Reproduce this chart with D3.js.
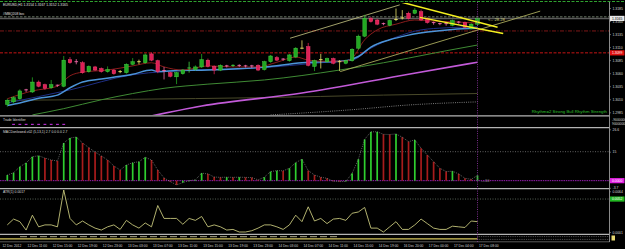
<!DOCTYPE html>
<html><head><meta charset="utf-8">
<script src="https://cdn.jsdelivr.net/npm/d3@7"></script>
<style>
html,body{margin:0;padding:0;background:#000;overflow:hidden}
svg{display:block}
text{font-family:"Liberation Sans",Arial,sans-serif}
</style></head><body>
<svg id="c" width="625" height="249"></svg>
<script>
// ---------------- DATA ----------------
const symbolLabel = "EURUSD,H1";
const indicatorLabel = "#MBQ208 bvc";
const opens  = [1.3000,1.3005,1.3011,1.3028,1.3024,1.3043,1.3038,1.3032,1.3037,1.3035,1.3086,1.3082,1.3080,1.3063,1.3072,1.3069,1.3063,1.3066,1.3063,1.3061,1.3077,1.3082,1.3080,1.3097,1.3084,1.3065,1.3061,1.3053,1.3059,1.3069,1.3067,1.3072,1.3085,1.3073,1.3066,1.3074,1.3074,1.3075,1.3074,1.3074,1.3075,1.3067,1.3082,1.3090,1.3087,1.3084,1.3091,1.3108,1.3111,1.3073,1.3086,1.3082,1.3088,1.3082,1.3079,1.3084,1.3108,1.3131,1.3165,1.3162,1.3155,1.3152,1.3163,1.3166,1.3175,1.3175,1.3178,1.3165,1.3157,1.3155,1.3155,1.3152,1.3158,1.3157,1.3146,1.3154];
const highs  = [1.3011,1.3016,1.3029,1.3030,1.3052,1.3046,1.3040,1.3047,1.3038,1.3093,1.3091,1.3087,1.3083,1.3075,1.3074,1.3071,1.3073,1.3068,1.3066,1.3079,1.3089,1.3086,1.3098,1.3100,1.3086,1.3072,1.3063,1.3063,1.3068,1.3082,1.3075,1.3097,1.3088,1.3075,1.3077,1.3076,1.3077,1.3077,1.3076,1.3076,1.3077,1.3084,1.3095,1.3093,1.3089,1.3097,1.3110,1.3123,1.3118,1.3086,1.3097,1.3090,1.3090,1.3085,1.3086,1.3108,1.3134,1.3172,1.3168,1.3164,1.3157,1.3163,1.3184,1.3181,1.3178,1.3185,1.3182,1.3167,1.3159,1.3157,1.3158,1.3163,1.3160,1.3159,1.3156,1.3167];
const lows   = [1.2996,1.3002,1.3009,1.3024,1.3022,1.3033,1.3028,1.3030,1.3034,1.3033,1.3078,1.3077,1.3059,1.3061,1.3064,1.3061,1.3061,1.3057,1.3060,1.3059,1.3075,1.3077,1.3078,1.3083,1.3060,1.3048,1.3052,1.3039,1.3057,1.3061,1.3065,1.3070,1.3071,1.3058,1.3064,1.3071,1.3072,1.3072,1.3071,1.3070,1.3064,1.3065,1.3080,1.3083,1.3084,1.3082,1.3089,1.3106,1.3073,1.3064,1.3069,1.3080,1.3077,1.3064,1.3077,1.3082,1.3105,1.3129,1.3157,1.3152,1.3152,1.3150,1.3160,1.3163,1.3163,1.3173,1.3160,1.3155,1.3153,1.3152,1.3151,1.3150,1.3155,1.3146,1.3144,1.3152];
const closes = [1.3008,1.3013,1.3026,1.3027,1.3043,1.3035,1.3031,1.3038,1.3036,1.3085,1.3080,1.3081,1.3061,1.3073,1.3066,1.3063,1.3067,1.3059,1.3063,1.3077,1.3082,1.3082,1.3095,1.3085,1.3063,1.3064,1.3054,1.3061,1.3066,1.3070,1.3072,1.3086,1.3073,1.3066,1.3075,1.3073,1.3075,1.3074,1.3073,1.3073,1.3066,1.3082,1.3093,1.3085,1.3086,1.3095,1.3108,1.3108,1.3075,1.3084,1.3086,1.3088,1.3079,1.3082,1.3084,1.3106,1.3131,1.3165,1.3159,1.3154,1.3154,1.3161,1.3163,1.3166,1.3165,1.3181,1.3162,1.3157,1.3156,1.3154,1.3154,1.3161,1.3157,1.3148,1.3154,1.3165];

// moving averages: bar index + value pairs
const maFastIdx = [0,4,8,10,12,16,20,23,25,28,32,36,40,43,46,48,50,54,55,57,59,62,65,68,72,75];
const maFast    = [1.3011,1.3026,1.3035,1.3055,1.3062,1.3066,1.3074,1.3080,1.3072,1.3066,1.3074,1.3072,1.3072,1.3081,1.3091,1.3085,1.3083,1.3083,1.3089,1.3124,1.3143,1.3154,1.3162,1.3160,1.3158,1.3156];
const maNavyIdx = [0,10,20,30,40,50,55,58,62,66,70,75];
const maNavy    = [1.3003,1.3028,1.3057,1.3066,1.3070,1.3080,1.3085,1.3108,1.3129,1.3143,1.3147,1.3149];
const maBlueIdx = [0,2,5,8,10,12,15,18,20,23,24,27,32,41,47,54,56,58,61,64,67,71,75];
const maBlue    = [1.2998,1.3003,1.3012,1.3018,1.3032,1.3043,1.3049,1.3054,1.3058,1.3066,1.3063,1.3065,1.3066,1.3072,1.3080,1.3084,1.3092,1.3110,1.3124,1.3133,1.3139,1.3144,1.3146];
const maOliveIdx = [4,9,15,20,25,32,41,53,60,64,70,75];
const maOlive    = [1.2980,1.2992,1.3009,1.3021,1.3031,1.3039,1.3047,1.3066,1.3080,1.3089,1.3103,1.3114];
const maDarkIdx = [0,20,40,60,75];
const maDark    = [1.3008,1.3010,1.3013,1.3018,1.3021];
const maVioletIdx = [23,31,47,64,75];
const maViolet    = [1.2978,1.2997,1.3022,1.3058,1.3081];
const maDottedIdx = [42,55,64,75];
const maDotted    = [1.2980,1.2990,1.2999,1.3005];

const priceTicks = [1.2985,1.3010,1.3035,1.3060,1.3085,1.3110,1.3135,1.3160,1.3185];
const levelRed = 1.3099, levelDarkRed = 1.3141, spread = 0.0003;

// trend objects: [barIndex, price] endpoints
const channelUpper = [[45.1,1.3127],[62.6,1.3191]];
const channelLower = [[53.1,1.3063],[85.0,1.3179]];
const wedgeUpper   = [[62.6,1.3197],[78.2,1.3148]];
const wedgeLower   = [[65.8,1.3167],[79.1,1.3136]];
const wedgeLabel = "<-- 28.28";

const tradeIdBars = [1,2,3,4,5,6,7,8,9];
const tradeIdTicks = ["-9000000","9000000"];

const macdHist = [2.9,4.1,7.2,9.2,12.4,12.9,11.7,10.7,10.2,19.5,22.1,22.6,19.5,17.1,14.8,12.8,10.7,7.6,5.5,8.1,9.3,9.8,12.1,10.7,5.5,1.4,-0.5,-2.2,-1.0,0.0,0.4,3.9,3.5,1.9,1.7,1.8,1.7,1.8,1.7,1.6,0.4,1.8,4.7,5.2,5.1,6.4,9.3,11.1,5.2,2.9,1.8,1.2,-0.3,-0.5,-0.4,3.8,11.1,21.4,25.3,25.3,24.0,23.9,24.2,22.5,20.2,21.1,16.8,13.3,9.8,6.4,4.7,4.9,3.5,1.2,0.7,2.7];
const macdTicks = [26.6,15,-3.7];
const macdLevel = 15;

const atrValues = [0.0012,0.0021,0.0017,0.0004,0.0027,0.0009,0.0012,0.0012,0.0009,0.0066,0.0022,0.0012,0.0018,0.0012,0.0007,0.0004,0.0009,0.0012,0.0005,0.0019,0.0012,0.0007,0.0015,0.0009,0.0042,0.0022,0.0022,0.0022,0.0013,0.0022,0.0019,0.0025,0.0009,0.0012,0.0009,0.0004,0.0005,0.0001,0.0001,0.0003,0.0007,0.0012,0.0012,0.0009,0.0005,0.0012,0.0027,0.0017,0.0040,0.0018,0.0022,0.0014,0.0021,0.0022,0.0019,0.0030,0.0032,0.0039,0.0007,0.0007,0.0001,0.0009,0.0017,0.0005,0.0005,0.0012,0.0021,0.0014,0.0007,0.0005,0.0005,0.0010,0.0009,0.0008,0.0018,0.0017];
const atrTicks = [0.0064,0.0001];
const atrLevel = 0.0052;

const timeLabels = ["12 Dec 2012","12 Dec 11:00","12 Dec 15:00","12 Dec 19:00","12 Dec 23:00","13 Dec 03:00","13 Dec 07:00","13 Dec 11:00","13 Dec 15:00","13 Dec 19:00","13 Dec 23:00","14 Dec 03:00","14 Dec 07:00","14 Dec 11:00","14 Dec 15:00","14 Dec 19:00","16 Dec 20:00","17 Dec 00:00","17 Dec 04:00","17 Dec 08:00"];
const timeLabelBars = [-1,3,7,11,15,19,23,27,31,35,39,43,47,51,55,59,63,67,71,75];
const rhythmText = "Rhythm=2 Strong Bull Rhythm Strength";

// ---------------- DRAW ----------------
const svg = d3.select("#c");
const W = 625, AX = 609.5;
const FS = 3.4;
const n = closes.length;
const x = d3.scaleLinear().domain([0, n-1]).range([7.3, 477.5]);
const yP = d3.scaleLinear().domain([1.2985, 1.3185]).range([112.3, 8]);
const yM = d3.scaleLinear().domain([-3.7, 26.6]).range([187.8, 129.3]);
const yA = d3.scaleLinear().domain([0.0001, 0.0066]).range([232, 190]);

svg.append("rect").attr("width", W).attr("height", 249).attr("fill", "#000");

const defs = svg.append("defs");
defs.append("clipPath").attr("id","cpMain").append("rect").attr("x",0).attr("y",3).attr("width",AX).attr("height",112);
defs.append("clipPath").attr("id","cpMacd").append("rect").attr("x",0).attr("y",128.5).attr("width",AX).attr("height",60);
defs.append("clipPath").attr("id","cpAtr").append("rect").attr("x",0).attr("y",189.5).attr("width",AX).attr("height",44.5);

// top green border line
svg.append("line").attr("x1",0).attr("x2",W).attr("y1",1.5).attr("y2",1.5)
  .attr("stroke","#2fa12f").attr("stroke-width",1).attr("stroke-dasharray","3,1.5");

const main = svg.append("g").attr("clip-path","url(#cpMain)");
const lastClose = closes[n-1];

// horizontal levels
function hline(g, y, col, w, dash){
  g.append("line").attr("x1",0).attr("x2",AX).attr("y1",y).attr("y2",y)
   .attr("stroke",col).attr("stroke-width",w).attr("stroke-dasharray",dash||null);
}
hline(main, yP(lastClose+spread), "#9fb39a", 0.7, "2.5,1.5");
hline(main, yP(lastClose), "#5a5a5a", 1.6);
hline(main, yP(levelDarkRed), "#8c1a1a", 0.9, "4,1.5,1,1.5");
hline(main, yP(levelRed), "#c41414", 1, "3,1.5");

// moving averages
function maLine(idx, vals, col, w, dash){
  const pts = idx.map((d,i)=>[d, vals[i]]);
  main.append("path").datum(pts)
    .attr("d", d3.line().x(d=>x(d[0])).y(d=>yP(d[1])).curve(d3.curveMonotoneX))
    .attr("fill","none").attr("stroke",col).attr("stroke-width",w).attr("stroke-dasharray",dash||null);
}
maLine(maDarkIdx, maDark, "#4a4a2a", 1);
maLine(maDottedIdx, maDotted, "#9a9a9a", 0.8, "1,1.2");
maLine(maVioletIdx, maViolet, "#c25ad8", 1.6);
maLine(maOliveIdx, maOlive, "#3f8a34", 1);
maLine(maNavyIdx, maNavy, "#1e2f86", 1);
maLine(maBlueIdx, maBlue, "#4c94d8", 1.5);
maLine(maFastIdx, maFast, "#8a1c1c", 1);

// channel trend lines
function seg(g, pts, col, w){
  g.append("line").attr("x1",x(pts[0][0])).attr("y1",yP(pts[0][1]))
   .attr("x2",x(pts[1][0])).attr("y2",yP(pts[1][1]))
   .attr("stroke",col).attr("stroke-width",w);
}
seg(main, channelUpper, "#c9c985", 0.8);
seg(main, channelLower, "#a9aa5c", 0.9);

// candles
const idx = d3.range(n);
function candleColor(i){
  const o = opens[i], c = closes[i];
  if (Math.abs(c-o) < 0.00005) return "#e6df6a";
  if (Math.abs(c-o) <= 0.00011) return c > o ? "#44d444" : "#f06aa8";
  return c > o ? "#22a822" : "#dd1f55";
}
main.selectAll("line.wick").data(idx).join("line").attr("class","wick")
  .attr("x1", i=>x(i)).attr("x2", i=>x(i))
  .attr("y1", i=>yP(highs[i])).attr("y2", i=>yP(lows[i]))
  .attr("stroke", candleColor).attr("stroke-width", 0.8);
main.selectAll("rect.body").data(idx).join("rect").attr("class","body")
  .attr("x", i=>x(i)-1.8).attr("width", 3.6)
  .attr("y", i=>Math.min(yP(opens[i]), yP(closes[i])) - (Math.abs(yP(opens[i])-yP(closes[i]))<0.9?0.45:0))
  .attr("height", i=>Math.max(0.9, Math.abs(yP(opens[i])-yP(closes[i]))))
  .attr("fill", candleColor)
  .attr("stroke", i=> closes[i]-opens[i] > 0.00011 ? "#4fe04f" : (opens[i]-closes[i] > 0.00011 ? "#ff4f7f" : "none"))
  .attr("stroke-width", 0.4);

// wedge lines (bright yellow)
seg(main, wedgeUpper, "#f4f020", 1.5);
seg(main, wedgeLower, "#f4f020", 1.5);
main.append("text").attr("x", 488).attr("y", 20.5).attr("font-size", 4.2).attr("fill","#cfcf7a").text(wedgeLabel);

// header texts
svg.append("text").attr("x",3).attr("y",6).attr("font-size",FS).attr("fill","#e0e0e0")
  .text(`${symbolLabel}  ${opens[n-1].toFixed(4)} ${highs[n-1].toFixed(4)} ${lows[n-1].toFixed(4)} ${closes[n-1].toFixed(4)}`);
svg.append("text").attr("x",3).attr("y",15).attr("font-size",FS).attr("fill","#e0e0e0").text(indicatorLabel);

// rhythm text
svg.append("text").attr("x",607).attr("y",113.2).attr("text-anchor","end").attr("font-size",4.3)
  .attr("fill","#2ec02e").text(rhythmText);

// ---- Trade identifier panel
svg.append("text").attr("x",3).attr("y",121.2).attr("font-size",FS).attr("fill","#d8d8d8").text("Trade Identifier");
svg.selectAll("rect.tid").data(tradeIdBars).join("rect").attr("class","tid")
  .attr("x", d=>x(d)-1.4).attr("y",123.8).attr("width",2.8).attr("height",1.2).attr("fill","#b02cc8");

// ---- MACD panel
const mg = svg.append("g").attr("clip-path","url(#cpMacd)");
mg.append("line").attr("x1",0).attr("x2",AX).attr("y1",yM(macdLevel)).attr("y2",yM(macdLevel))
  .attr("stroke","#8a8a8a").attr("stroke-width",0.7).attr("stroke-dasharray","1,1.5");
mg.append("line").attr("x1",0).attr("x2",AX).attr("y1",yM(0)).attr("y2",yM(0))
  .attr("stroke","#9a1eb4").attr("stroke-width",1).attr("stroke-dasharray","1.5,0.8");
mg.selectAll("rect.mb").data(idx).join("rect").attr("class","mb")
  .attr("x", i=>x(i)-0.85).attr("width",1.7)
  .attr("y", i=>Math.min(yM(0), yM(macdHist[i])))
  .attr("height", i=>Math.max(0.6, Math.abs(yM(macdHist[i])-yM(0))))
  .attr("fill", i=> (i===0 || macdHist[i] >= macdHist[i-1]) ? "#2fcf2f" : "#a81c1c");
mg.append("path").datum(idx)
  .attr("d", d3.line().x(i=>x(i)).y(i=>yM(macdHist[i])))
  .attr("fill","none").attr("stroke","#b8b8b8").attr("stroke-width",0.6).attr("stroke-dasharray","0.8,1.2");
svg.append("text").attr("x",3).attr("y",133.3).attr("font-size",FS).attr("fill","#d8d8d8")
  .text(`MACDonlowed-v02 (5,13,1) ${macdHist[n-1].toFixed(1)} 0.0 0.0 ${macdHist[n-1].toFixed(1)}`);
svg.append("text").attr("x",481).attr("y",yM(0)+1.4).attr("font-size",4).attr("fill","#9a9a9a").text("—10");

// ---- ATR panel
const ag = svg.append("g").attr("clip-path","url(#cpAtr)");
ag.append("line").attr("x1",0).attr("x2",AX).attr("y1",yA(atrLevel)).attr("y2",yA(atrLevel))
  .attr("stroke","#7a8a7a").attr("stroke-width",0.7).attr("stroke-dasharray","1,1.5");
ag.append("path").datum(idx)
  .attr("d", d3.line().x(i=>x(i)).y(i=>yA(atrValues[i])))
  .attr("fill","none").attr("stroke","#c4c47a").attr("stroke-width",0.9);
svg.append("text").attr("x",3).attr("y",193.4).attr("font-size",FS).attr("fill","#d8d8d8")
  .text(`ATR(1) ${atrValues[n-1].toFixed(4)}`);

// ---- bottom strip (small sub-window)
svg.append("line").attr("x1",0).attr("x2",x(n-1)).attr("y1",238.9).attr("y2",238.9).attr("stroke","#d4c55c").attr("stroke-width",1.2);
svg.append("line").attr("x1",20).attr("x2",340).attr("y1",236.7).attr("y2",236.7).attr("stroke","#ddd8b0").attr("stroke-width",0.8).attr("stroke-dasharray","7,3");
svg.append("line").attr("x1",x(n-1)).attr("x2",AX).attr("y1",236.6).attr("y2",236.6).attr("stroke","#8a8a8a").attr("stroke-width",0.7).attr("stroke-dasharray","0.8,1");
svg.append("line").attr("x1",x(n-1)).attr("x2",AX).attr("y1",239.4).attr("y2",239.4).attr("stroke","#8a8a8a").attr("stroke-width",0.7).attr("stroke-dasharray","0.8,1");

// panel separators
[115.8,127.6,188.6,234.4].forEach(y=>{
  svg.append("line").attr("x1",0).attr("x2",AX).attr("y1",y).attr("y2",y).attr("stroke","#b4b4b4").attr("stroke-width",1.3);
});
svg.append("line").attr("x1",0).attr("x2",AX).attr("y1",241.8).attr("y2",241.8).attr("stroke","#707070").attr("stroke-width",0.8);

// vertical current-bar dotted line
svg.append("line").attr("x1",x(n-1)).attr("x2",x(n-1)).attr("y1",2).attr("y2",242)
  .attr("stroke","#9a3ab0").attr("stroke-width",0.8).attr("stroke-dasharray","1,1.3");

// right axis line
svg.append("line").attr("x1",AX).attr("x2",AX).attr("y1",2).attr("y2",242).attr("stroke","#9a9a9a").attr("stroke-width",0.9);

function styleAxis(g){
  g.select(".domain").remove();
  g.selectAll(".tick line").attr("stroke","#9a9a9a").attr("stroke-width",0.6);
  g.selectAll(".tick text").attr("font-size",FS).attr("fill","#d8d8d8").attr("font-family","Liberation Sans, Arial, sans-serif");
}
svg.append("g").attr("transform",`translate(${AX},0)`)
  .call(d3.axisRight(yP).tickValues(priceTicks).tickSize(1.5).tickPadding(1.5).tickFormat(d3.format(".4f"))).call(styleAxis);
svg.append("g").attr("transform",`translate(${AX},0)`)
  .call(d3.axisRight(yM).tickValues(macdTicks).tickSize(1.5).tickPadding(1.5).tickFormat(d=>String(d))).call(styleAxis);
svg.append("g").attr("transform",`translate(${AX},0)`)
  .call(d3.axisRight(yA).tickValues(atrTicks).tickSize(1.5).tickPadding(1.5).tickFormat(d3.format(".4f"))).call(styleAxis);
// trade identifier scale labels
tradeIdTicks.forEach((t,k)=>{
  svg.append("text").attr("x",612).attr("y",120.5+k*4.6).attr("font-size",FS).attr("fill","#d8d8d8").text(t);
});

// highlighted value labels
function tag(y, bg, fg, txt){
  svg.append("rect").attr("x",AX+0.5).attr("y",y-2.6).attr("width",14.5).attr("height",5.2).attr("fill",bg);
  svg.append("text").attr("x",612).attr("y",y+1.3).attr("font-size",FS).attr("fill",fg).text(txt);
}
tag(yP(lastClose), "#e8e8e8", "#000", lastClose.toFixed(4));
tag(yP(levelRed), "#e01010", "#fff", levelRed.toFixed(4));
tag(yM(0), "#e020e0", "#fff", "0.0000");
tag(yA(atrLevel), "#22b822", "#fff", atrLevel.toFixed(4));
svg.append("rect").attr("x",611.5).attr("y",235.5).attr("width",3.5).attr("height",5).attr("fill","#e6d870");

// time axis
const tAxis = svg.append("g").attr("transform","translate(0,242)")
  .call(d3.axisBottom(x).tickValues(timeLabelBars).tickSize(0).tickPadding(3).tickFormat((d,i)=>timeLabels[i]));
tAxis.select(".domain").remove();
tAxis.selectAll(".tick text").attr("text-anchor","start").attr("dx",1).attr("font-size",3.3)
  .attr("fill","#d0d0d0").attr("font-family","Liberation Sans, Arial, sans-serif");
</script>
</body></html>
